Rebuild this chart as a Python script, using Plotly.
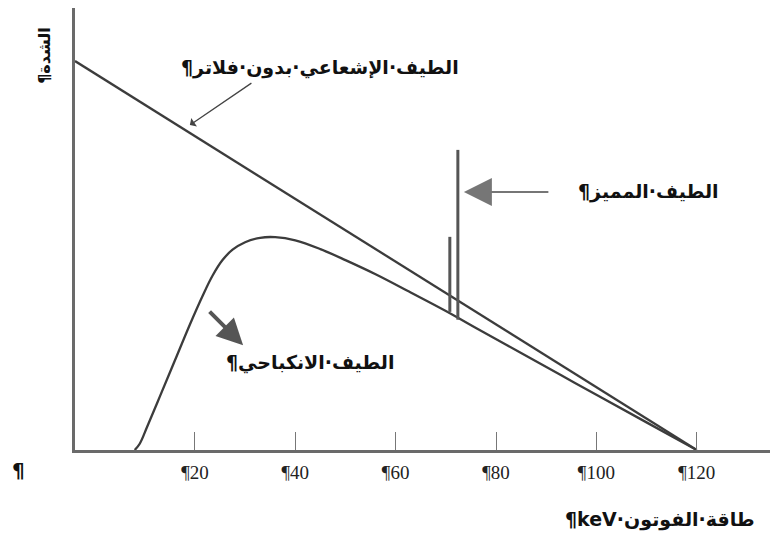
import plotly.graph_objects as go

# ---- data (photon energy in keV, relative intensity) ----
unfiltered_energy = [-3.9, 120]
unfiltered_intensity = [123.9, 0]

filtered_energy = [8, 9, 10.5, 13, 16, 19, 21.5, 23.5, 25.5, 27.5, 30, 33, 36, 40, 45, 50, 56, 63,
                   70, 77, 85, 93, 101, 110, 120]
filtered_intensity = [0, 2, 7.5, 17, 28.5, 40, 49, 55.5, 60.5, 63.8, 66.2, 67.6, 67.8, 66.8, 64,
                      60.5, 56, 50.2, 44.3, 38.0, 30.9, 23.8, 16.7, 8.8, 0]

line1_energy = 70.8
line1_range = [44.0, 67.9]
line2_energy = 72.4
line2_range = [41.5, 95.6]

tick_values = [20, 40, 60, 80, 100, 120]
tick_labels = ["¶20", "¶40", "¶60", "¶80", "¶100", "¶120"]

RLE, PDF = "\u202B", "\u202C"
label_unfiltered = RLE + "الطيف·الإشعاعي·بدون·فلاتر¶" + PDF
label_characteristic = RLE + "الطيف·المميز¶" + PDF
label_brems = RLE + "الطيف·الانكباحي¶" + PDF
x_title = RLE + "طاقة·الفوتون·keV¶" + PDF
y_title = RLE + "الشدة¶" + PDF

LINE = "#3c3c3c"
AXIS = "#6a6a6a"
AR_FONT = dict(family="DejaVu Sans", size=19, color="#111111", weight="bold")

fig = go.Figure()
fig.add_trace(go.Scatter(x=unfiltered_energy, y=unfiltered_intensity, mode="lines",
                         line=dict(color=LINE, width=2.3), hoverinfo="skip"))
fig.add_trace(go.Scatter(x=filtered_energy, y=filtered_intensity, mode="lines",
                         line=dict(color=LINE, width=2.3, shape="spline", smoothing=1.0),
                         hoverinfo="skip"))
fig.add_trace(go.Scatter(x=[line1_energy, line1_energy], y=line1_range, mode="lines",
                         line=dict(color="#555555", width=3), hoverinfo="skip"))
fig.add_trace(go.Scatter(x=[line2_energy, line2_energy], y=line2_range, mode="lines",
                         line=dict(color="#555555", width=3), hoverinfo="skip"))

C = dict(xanchor="center", yanchor="middle")
annotations = [
    dict(x=44.9, y=121.7, xref="x", yref="y", text=label_unfiltered, showarrow=False,
         font=AR_FONT, **C),
    dict(x=19.0, y=103.5, xref="x", yref="y", text="", showarrow=True, ax=63, ay=-43,
         arrowhead=1, arrowsize=1.3, arrowwidth=1.3, arrowcolor="#444444"),
    dict(x=110.3, y=82.2, xref="x", yref="y", text=label_characteristic, showarrow=False,
         font=AR_FONT, **C),
    dict(x=73.6, y=82.2, xref="x", yref="y", text="", showarrow=True, ax=86, ay=0,
         arrowhead=2, arrowsize=2.8, arrowwidth=2, arrowcolor="#767676"),
    dict(x=43.0, y=28.0, xref="x", yref="y", text=label_brems, showarrow=False,
         font=AR_FONT, **C),
    dict(x=29.6, y=33.4, xref="x", yref="y", text="", showarrow=True, ax=-35, ay=-35,
         arrowhead=2, arrowsize=1.3, arrowwidth=4, arrowcolor="#555555"),
    dict(x=-0.0427, y=0.894, xref="paper", yref="paper", text=y_title, showarrow=False,
         textangle=-90, font=dict(family="DejaVu Sans", size=16, color="#111111", weight="bold"),
         **C),
    dict(x=0.832, y=-0.158, xref="paper", yref="paper", text=x_title, showarrow=False,
         font=AR_FONT, **C),
    dict(x=-0.081, y=-0.045, xref="paper", yref="paper", text="¶", showarrow=False,
         font=dict(family="DejaVu Sans", size=20, color="#111111", weight="bold"), **C),
]

# the page body adds an 8px offset; the figure is sized to fit the 778x541 window
fig.update_layout(
    width=770, height=533,
    margin=dict(l=67, r=0, t=0, b=91),
    paper_bgcolor="white", plot_bgcolor="white",
    showlegend=False,
    annotations=annotations,
    xaxis=dict(range=[-3.9, 136.2], showgrid=False, zeroline=False,
               showline=True, linecolor=AXIS, linewidth=2.5,
               ticks="inside", ticklen=18, tickwidth=1, tickcolor="#777777",
               tickvals=tick_values, ticktext=tick_labels,
               tickfont=dict(family="Liberation Serif", size=19, color="#222222"),
               ticklabelstandoff=3),
    yaxis=dict(range=[0, 140.8], showgrid=False, zeroline=False,
               showline=True, linecolor=AXIS, linewidth=2.5,
               showticklabels=False, ticks=""),
)

fig.write_html("out.html")
